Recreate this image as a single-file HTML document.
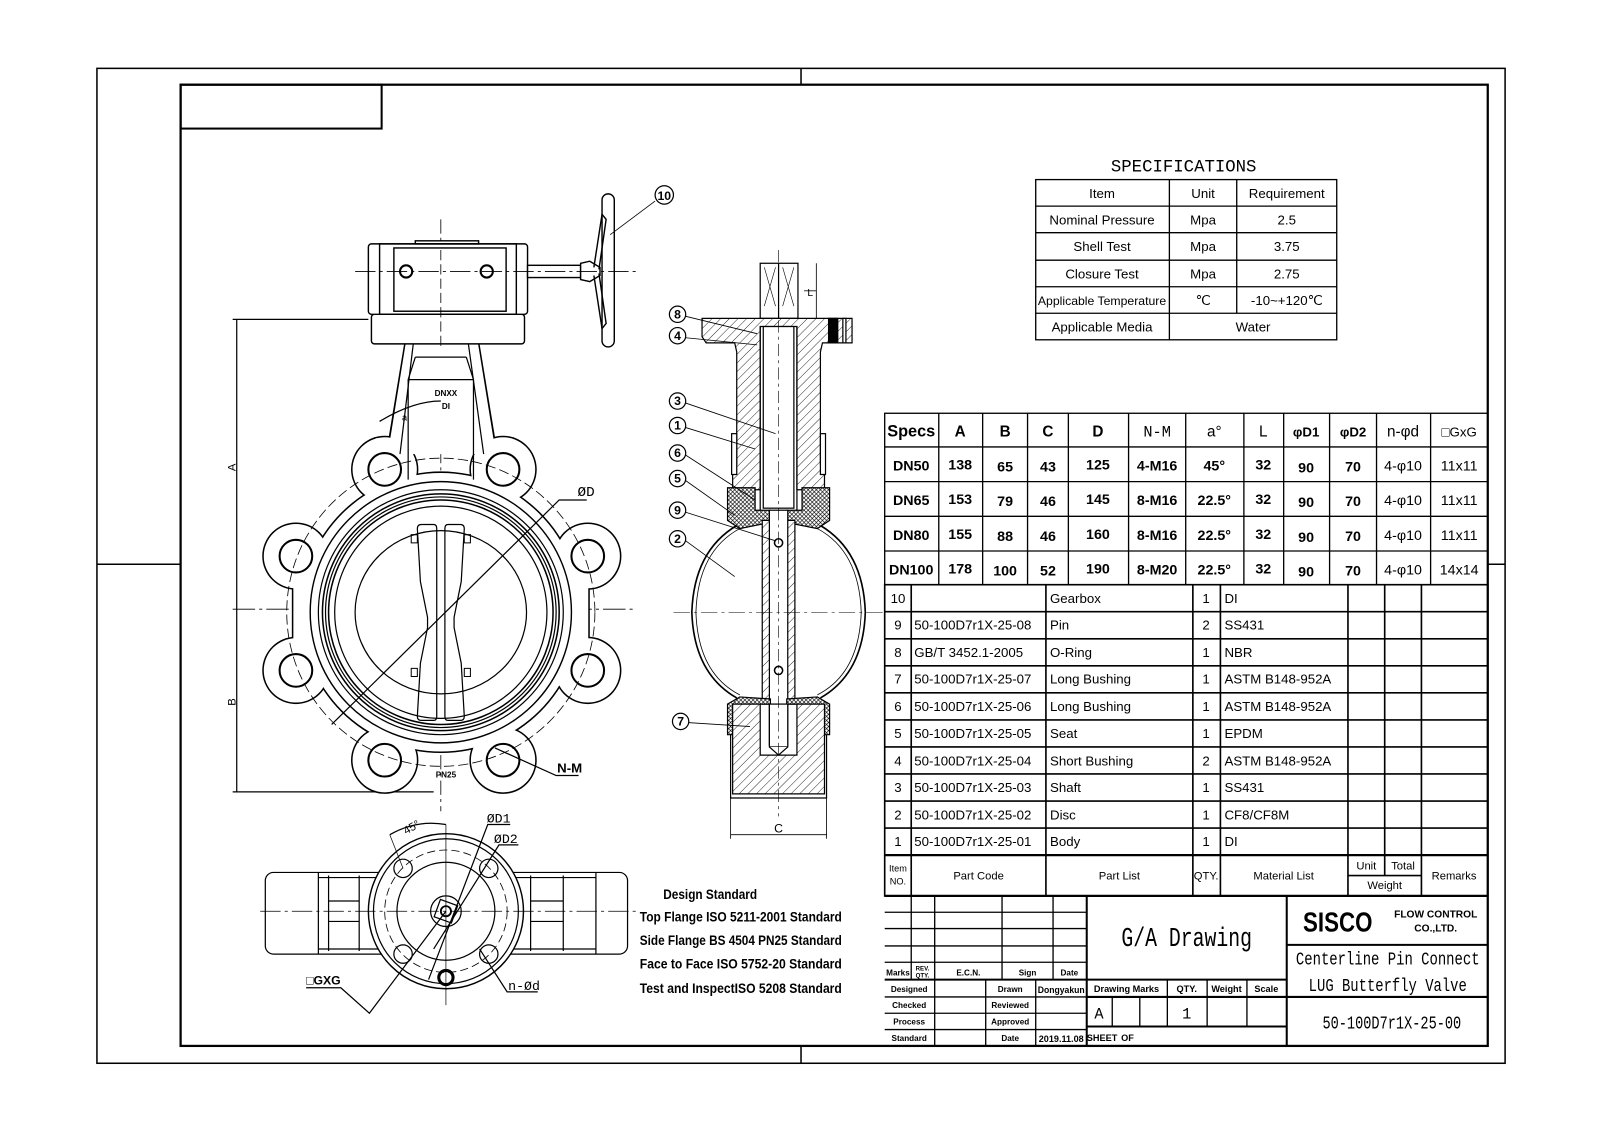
<!DOCTYPE html>
<html><head><meta charset="utf-8"><style>
html,body{margin:0;padding:0;background:#fff;}
svg{display:block;}
text{font-family:"Liberation Sans Narrow","Liberation Sans",sans-serif;fill:#000;}
.m{font-family:"Liberation Mono","Liberation Serif",monospace;}
</style></head><body>
<svg width="1600" height="1130" viewBox="0 0 1568 1107.4" xmlns="http://www.w3.org/2000/svg">
<defs>
<pattern id="h" width="6" height="6" patternUnits="userSpaceOnUse" patternTransform="rotate(45)"><rect width="6" height="6" fill="#fff"/><line x1="0" y1="0" x2="0" y2="6" stroke="#000" stroke-width="0.8"/></pattern>
<pattern id="x" width="4" height="4" patternUnits="userSpaceOnUse"><rect width="4" height="4" fill="#fff"/><path d="M0 0L4 4M4 0L0 4" stroke="#000" stroke-width="0.6"/></pattern>
</defs>
<rect width="1568" height="1108" fill="#fff"/>
<rect x="95" y="67" width="1380" height="975" fill="none" stroke="#000" stroke-width="1.5"/>
<rect x="177" y="83" width="1281" height="942" fill="none" stroke="#000" stroke-width="2.2"/>
<rect x="177" y="83" width="197" height="43" fill="none" stroke="#000" stroke-width="2"/>
<g stroke="#000" stroke-width="1.5">
<line x1="785" y1="67" x2="785" y2="83"/><line x1="785" y1="1025" x2="785" y2="1042"/>
<line x1="95" y1="553" x2="177" y2="553"/><line x1="1458" y1="553" x2="1475" y2="553"/>
</g>

<text x="1160" y="168" font-size="17" text-anchor="middle" class="m">SPECIFICATIONS</text>
<g stroke="#000" stroke-width="1.3" fill="none">
<rect x="1015" y="176" width="295" height="157"/>
<line x1="1015" y1="202" x2="1310" y2="202"/><line x1="1015" y1="228" x2="1310" y2="228"/>
<line x1="1015" y1="255" x2="1310" y2="255"/><line x1="1015" y1="281" x2="1310" y2="281"/>
<line x1="1015" y1="307" x2="1310" y2="307"/>
<line x1="1146" y1="176" x2="1146" y2="333"/><line x1="1212" y1="176" x2="1212" y2="307"/>
</g>
<g font-size="13" text-anchor="middle" class="m">
<text x="1080" y="194">Item</text><text x="1179" y="194">Unit</text><text x="1261" y="194">Requirement</text>
<text x="1080" y="220">Nominal Pressure</text><text x="1179" y="220">Mpa</text><text x="1261" y="220">2.5</text>
<text x="1080" y="246">Shell Test</text><text x="1179" y="246">Mpa</text><text x="1261" y="246">3.75</text>
<text x="1080" y="273">Closure Test</text><text x="1179" y="273">Mpa</text><text x="1261" y="273">2.75</text>
<text x="1080" y="299" font-size="12">Applicable Temperature</text><text x="1179" y="299">℃</text><text x="1261" y="299">-10~+120℃</text>
<text x="1080" y="325">Applicable Media</text><text x="1228" y="325">Water</text>
</g>

<g stroke="#000" stroke-width="1.3" fill="none">
<rect x="867" y="405" width="591" height="168"/>
<line x1="867" y1="438" x2="1458" y2="438"/><line x1="867" y1="472" x2="1458" y2="472"/>
<line x1="867" y1="506" x2="1458" y2="506"/><line x1="867" y1="540" x2="1458" y2="540"/>
<line x1="920" y1="405" x2="920" y2="573"/><line x1="963" y1="405" x2="963" y2="573"/>
<line x1="1007" y1="405" x2="1007" y2="573"/><line x1="1047" y1="405" x2="1047" y2="573"/>
<line x1="1106" y1="405" x2="1106" y2="573"/><line x1="1162" y1="405" x2="1162" y2="573"/>
<line x1="1219" y1="405" x2="1219" y2="573"/><line x1="1258" y1="405" x2="1258" y2="573"/>
<line x1="1303" y1="405" x2="1303" y2="573"/><line x1="1349" y1="405" x2="1349" y2="573"/>
<line x1="1402" y1="405" x2="1402" y2="573"/>
</g>
<g font-size="15" text-anchor="middle" font-weight="bold">
<text x="893" y="428" font-size="16">Specs</text><text x="941" y="428">A</text><text x="985" y="428">B</text><text x="1027" y="428">C</text><text x="1076" y="428">D</text><text x="1134" y="428" font-weight="normal" class="m">N-M</text><text x="1190" y="428" font-weight="normal">a°</text><text x="1238" y="428" font-weight="normal">L</text><text x="1280" y="428" font-size="13">φD1</text><text x="1326" y="428" font-size="13">φD2</text><text x="1375" y="428" font-weight="normal">n-φd</text><text x="1430" y="428" font-size="13" font-weight="normal">□GxG</text>
</g>
<g font-size="14" text-anchor="middle" font-weight="bold">
<text x="893" y="461">DN50</text><text x="941" y="460">138</text><text x="985" y="462">65</text><text x="1027" y="462">43</text><text x="1076" y="460">125</text><text x="1134" y="461">4-M16</text><text x="1190" y="461">45°</text><text x="1238" y="460">32</text><text x="1280" y="463">90</text><text x="1326" y="462">70</text><text x="1375" y="461" font-weight="normal">4-φ10</text><text x="1430" y="461" font-weight="normal">11x11</text>
<text x="893" y="495">DN65</text><text x="941" y="494">153</text><text x="985" y="496">79</text><text x="1027" y="496">46</text><text x="1076" y="494">145</text><text x="1134" y="495">8-M16</text><text x="1190" y="495">22.5°</text><text x="1238" y="494">32</text><text x="1280" y="497">90</text><text x="1326" y="496">70</text><text x="1375" y="495" font-weight="normal">4-φ10</text><text x="1430" y="495" font-weight="normal">11x11</text>
<text x="893" y="529">DN80</text><text x="941" y="528">155</text><text x="985" y="530">88</text><text x="1027" y="530">46</text><text x="1076" y="528">160</text><text x="1134" y="529">8-M16</text><text x="1190" y="529">22.5°</text><text x="1238" y="528">32</text><text x="1280" y="531">90</text><text x="1326" y="530">70</text><text x="1375" y="529" font-weight="normal">4-φ10</text><text x="1430" y="529" font-weight="normal">11x11</text>
<text x="893" y="563">DN100</text><text x="941" y="562">178</text><text x="985" y="564">100</text><text x="1027" y="564">52</text><text x="1076" y="562">190</text><text x="1134" y="563">8-M20</text><text x="1190" y="563">22.5°</text><text x="1238" y="562">32</text><text x="1280" y="565">90</text><text x="1326" y="564">70</text><text x="1375" y="563" font-weight="normal">4-φ10</text><text x="1430" y="563" font-weight="normal">14x14</text>
</g>

<g stroke="#000" stroke-width="1.6" fill="none">
<rect x="867" y="573" width="591" height="305"/>
<line x1="867" y1="599.5" x2="1458" y2="599.5"/><line x1="867" y1="626" x2="1458" y2="626"/>
<line x1="867" y1="652.5" x2="1458" y2="652.5"/><line x1="867" y1="679" x2="1458" y2="679"/>
<line x1="867" y1="705.5" x2="1458" y2="705.5"/><line x1="867" y1="732" x2="1458" y2="732"/>
<line x1="867" y1="758.5" x2="1458" y2="758.5"/><line x1="867" y1="785" x2="1458" y2="785"/>
<line x1="867" y1="811.5" x2="1458" y2="811.5"/><line x1="867" y1="838" x2="1458" y2="838" stroke-width="2.2"/>
<line x1="893" y1="573" x2="893" y2="878"/><line x1="1025" y1="573" x2="1025" y2="878"/>
<line x1="1169" y1="573" x2="1169" y2="878"/><line x1="1196" y1="573" x2="1196" y2="878"/>
<line x1="1321" y1="573" x2="1321" y2="878"/><line x1="1357" y1="573" x2="1357" y2="858"/>
<line x1="1393" y1="573" x2="1393" y2="878"/><line x1="1321" y1="858" x2="1393" y2="858"/>
<line x1="867" y1="878" x2="1458" y2="878" stroke-width="2.2"/>
</g>
<g font-size="13" class="m">
<g text-anchor="middle"><text x="880" y="591">10</text><text x="880" y="617">9</text><text x="880" y="644">8</text><text x="880" y="670">7</text><text x="880" y="697">6</text><text x="880" y="723">5</text><text x="880" y="750">4</text><text x="880" y="776">3</text><text x="880" y="803">2</text><text x="880" y="829">1</text>
<text x="1182" y="591">1</text><text x="1182" y="617">2</text><text x="1182" y="644">1</text><text x="1182" y="670">1</text><text x="1182" y="697">1</text><text x="1182" y="723">1</text><text x="1182" y="750">2</text><text x="1182" y="776">1</text><text x="1182" y="803">1</text><text x="1182" y="829">1</text></g>
<text x="896" y="617">50-100D7r1X-25-08</text><text x="896" y="644">GB/T 3452.1-2005</text><text x="896" y="670">50-100D7r1X-25-07</text><text x="896" y="697">50-100D7r1X-25-06</text><text x="896" y="723">50-100D7r1X-25-05</text><text x="896" y="750">50-100D7r1X-25-04</text><text x="896" y="776">50-100D7r1X-25-03</text><text x="896" y="803">50-100D7r1X-25-02</text><text x="896" y="829">50-100D7r1X-25-01</text>
<text x="1029" y="591">Gearbox</text><text x="1029" y="617">Pin</text><text x="1029" y="644">O-Ring</text><text x="1029" y="670">Long Bushing</text><text x="1029" y="697">Long Bushing</text><text x="1029" y="723">Seat</text><text x="1029" y="750">Short Bushing</text><text x="1029" y="776">Shaft</text><text x="1029" y="803">Disc</text><text x="1029" y="829">Body</text>
<text x="1200" y="591">DI</text><text x="1200" y="617">SS431</text><text x="1200" y="644">NBR</text><text x="1200" y="670">ASTM B148-952A</text><text x="1200" y="697">ASTM B148-952A</text><text x="1200" y="723">EPDM</text><text x="1200" y="750">ASTM B148-952A</text><text x="1200" y="776">SS431</text><text x="1200" y="803">CF8/CF8M</text><text x="1200" y="829">DI</text>
</g>
<g font-size="11" text-anchor="middle" class="m">
<text x="880" y="854" font-size="9">Item</text><text x="880" y="867" font-size="9">NO.</text>
<text x="959" y="862">Part Code</text><text x="1097" y="862">Part List</text><text x="1182" y="862">QTY.</text><text x="1258" y="862">Material List</text>
<text x="1339" y="852">Unit</text><text x="1375" y="852">Total</text><text x="1357" y="871">Weight</text><text x="1425" y="862">Remarks</text>
</g>

<g stroke="#000" stroke-width="1.3" fill="none">
<line x1="867" y1="894" x2="1065" y2="894"/><line x1="867" y1="910" x2="1065" y2="910"/>
<line x1="867" y1="927" x2="1065" y2="927"/><line x1="867" y1="943" x2="1065" y2="943"/>
<line x1="867" y1="960" x2="1261" y2="960" stroke-width="2"/>
<line x1="867" y1="977" x2="1065" y2="977"/><line x1="867" y1="993" x2="1065" y2="993"/><line x1="867" y1="1009" x2="1065" y2="1009"/>
<line x1="893" y1="878" x2="893" y2="960"/><line x1="916" y1="878" x2="916" y2="1025"/>
<line x1="982" y1="878" x2="982" y2="960"/><line x1="1032" y1="878" x2="1032" y2="960"/>
<line x1="966" y1="960" x2="966" y2="1025"/><line x1="1015" y1="960" x2="1015" y2="1025"/>
<line x1="1065" y1="878" x2="1065" y2="1025" stroke-width="2"/>
<line x1="1261" y1="878" x2="1261" y2="1025" stroke-width="2"/>
<line x1="1065" y1="977" x2="1261" y2="977" stroke-width="2"/><line x1="1065" y1="1006" x2="1261" y2="1006" stroke-width="2"/>
<line x1="1144" y1="960" x2="1144" y2="1006"/><line x1="1183" y1="960" x2="1183" y2="1006"/><line x1="1222" y1="960" x2="1222" y2="1006"/>
<line x1="1090" y1="977" x2="1090" y2="1006"/><line x1="1117" y1="977" x2="1117" y2="1006"/>
<line x1="1261" y1="926" x2="1458" y2="926" stroke-width="2"/><line x1="1261" y1="977" x2="1458" y2="977" stroke-width="2"/>
</g>
<g font-size="8" text-anchor="middle" font-weight="bold">
<text x="880" y="956">Marks</text><text x="904" y="951" font-size="6">REV.</text><text x="904" y="958" font-size="6">QTY.</text><text x="949" y="956">E.C.N.</text><text x="1007" y="956">Sign</text><text x="1048" y="956">Date</text>
<text x="891" y="972">Designed</text><text x="990" y="972">Drawn</text><text x="1040" y="973" font-size="9" textLength="46" lengthAdjust="spacingAndGlyphs">Dongyakun</text>
<text x="891" y="988">Checked</text><text x="990" y="988">Reviewed</text>
<text x="891" y="1004">Process</text><text x="990" y="1004">Approved</text>
<text x="891" y="1020">Standard</text><text x="990" y="1020">Date</text><text x="1040" y="1021" font-size="9" textLength="44" lengthAdjust="spacingAndGlyphs">2019.11.08</text>
<text x="1104" y="972" font-size="9">Drawing Marks</text><text x="1163" y="972" font-size="9">QTY.</text><text x="1202" y="972" font-size="9">Weight</text><text x="1241" y="972" font-size="9">Scale</text>
<text x="1080" y="1020" font-size="9">SHEET</text><text x="1105" y="1020" font-size="9">OF</text>
</g>
<text x="1077" y="998" font-size="15" text-anchor="middle" class="m">A</text>
<text x="1163" y="998" font-size="15" text-anchor="middle" class="m">1</text>
<text x="1163" y="927" font-size="26" text-anchor="middle" class="m" textLength="128" lengthAdjust="spacingAndGlyphs">G/A Drawing</text>
<text x="1311" y="913" font-size="27" text-anchor="middle" font-weight="bold" font-family="Liberation Sans" textLength="68" lengthAdjust="spacingAndGlyphs">SISCO</text>
<text x="1407" y="899" font-size="10" text-anchor="middle" font-weight="bold">FLOW CONTROL</text>
<text x="1407" y="913" font-size="10" text-anchor="middle" font-weight="bold">CO.,LTD.</text>
<text x="1360" y="945" font-size="18" text-anchor="middle" class="m" textLength="180" lengthAdjust="spacingAndGlyphs">Centerline Pin Connect</text>
<text x="1360" y="971" font-size="18" text-anchor="middle" class="m" textLength="155" lengthAdjust="spacingAndGlyphs">LUG Butterfly Valve</text>
<text x="1364" y="1008" font-size="18" text-anchor="middle" class="m" textLength="136" lengthAdjust="spacingAndGlyphs">50-100D7r1X-25-00</text>

<!-- FRONT VIEW -->
<g stroke="#000" fill="none" stroke-width="1.2">
<line x1="232" y1="313" x2="232" y2="776"/>
<line x1="228" y1="313" x2="361" y2="313"/>
<line x1="228" y1="776" x2="425" y2="776"/>
<line x1="228" y1="597" x2="620" y2="597" stroke-dasharray="22 4 3 4" stroke-width="0.8"/>
<line x1="432" y1="215" x2="432" y2="795" stroke-dasharray="14 4 3 4" stroke-width="0.8"/>
</g>
<g fill="#000">
<circle cx="432" cy="600" r="138"/>
<circle cx="377" cy="460" r="33"/><circle cx="493" cy="460" r="33"/>
<circle cx="290" cy="545" r="33"/><circle cx="576" cy="545" r="33"/>
<circle cx="290" cy="657" r="33"/><circle cx="576" cy="657" r="33"/>
<circle cx="377" cy="745" r="33"/><circle cx="493" cy="745" r="33"/>
<rect x="286" y="545" width="16" height="112"/><rect x="562" y="545" width="16" height="112"/>
<path d="M396 337 L470 337 L487 440 L379 440 Z"/>
</g>
<g fill="#fff">
<circle cx="432" cy="600" r="136.5"/>
<circle cx="377" cy="460" r="31.5"/><circle cx="493" cy="460" r="31.5"/>
<circle cx="290" cy="545" r="31.5"/><circle cx="576" cy="545" r="31.5"/>
<circle cx="290" cy="657" r="31.5"/><circle cx="576" cy="657" r="31.5"/>
<circle cx="377" cy="745" r="31.5"/><circle cx="493" cy="745" r="31.5"/>
<rect x="287.5" y="545" width="13" height="112"/><rect x="563.5" y="545" width="13" height="112"/>
<path d="M397.5 337 L468.5 337 L486 445 L380 445 Z"/>
</g>
<g stroke="#000" fill="none" stroke-width="1.2">
<path d="M405 337 L392 445 M459 337 L474 445"/>
<path d="M407 350 L400 372 L400 470 M457 350 L464 372 L464 470 M407 350 L457 350 M400 372 L464 372"/>
<circle cx="432" cy="600" r="151" stroke-dasharray="10 4" stroke-width="0.8"/>
<circle cx="432" cy="600" r="128" stroke-width="1.4"/>
<circle cx="432" cy="600" r="120"/>
<circle cx="432" cy="600" r="116" stroke-width="1.5"/>
<circle cx="432" cy="600" r="113"/>
<circle cx="432" cy="600" r="110" stroke-width="1.5"/>
<circle cx="432" cy="600" r="104"/>
<ellipse cx="432" cy="600" rx="84" ry="80"/>
<g stroke-width="2">
<circle cx="377" cy="460" r="16"/><circle cx="493" cy="460" r="16"/>
<circle cx="290" cy="545" r="16"/><circle cx="576" cy="545" r="16"/>
<circle cx="290" cy="657" r="16"/><circle cx="576" cy="657" r="16"/>
<circle cx="377" cy="745" r="16"/><circle cx="493" cy="745" r="16"/>
</g>
<path d="M409 518 Q409 514 413 514 L425 514 Q428 514 428 518 L428 702 Q428 706 425 706 L413 706 Q409 706 409 702 L412 650 L419 615 L419 605 L412 570 Z"/>
<path d="M455 518 Q455 514 451 514 L439 514 Q436 514 436 518 L436 702 Q436 706 439 706 L451 706 Q455 706 455 702 L452 650 L445 615 L445 605 L452 570 Z"/>
<path d="M403 524 h6 v8 h-6z M455 524 h6 v8 h-6z M403 655 h6 v8 h-6z M455 655 h6 v8 h-6z" stroke-width="1"/>
<path d="M325 710 L548 490 L575 490"/>
<path d="M485 733 L545 760 L567 760"/>
<path d="M372 413 Q405 393 432 393"/>
</g>
<text x="566" y="486" font-size="14" class="m">ØD</text>
<text x="546" y="757" font-size="13" font-weight="bold">N-M</text>
<text x="394" y="412" font-size="9">a</text>
<text x="437" y="388" font-size="8" text-anchor="middle" font-weight="bold">DNXX</text>
<text x="437" y="401" font-size="8" text-anchor="middle" font-weight="bold">DI</text>
<text x="437" y="762" font-size="8" text-anchor="middle" font-weight="bold">PN25</text>
<text x="231" y="458" font-size="11" transform="rotate(-90 231 458)" text-anchor="middle">A</text>
<text x="231" y="688" font-size="11" transform="rotate(-90 231 688)" text-anchor="middle">B</text>

<g stroke="#000" fill="#fff" stroke-width="1.4">
<rect x="364" y="308" width="150" height="29" rx="3"/>
<rect x="361" y="239" width="156" height="69" rx="3"/>
<rect x="372" y="239" width="134" height="69" fill="none"/>
<rect x="386" y="243" width="110" height="62" fill="none"/>
<rect x="407" y="236" width="62" height="3" fill="none"/>
<circle cx="398" cy="266" r="6" stroke-width="2"/><circle cx="477" cy="266" r="6" stroke-width="2"/>
<rect x="517" y="260" width="52" height="12"/>
<path d="M569 258 L578 256 L588 262 L588 270 L578 276 L569 274 Z"/>
<rect x="590" y="190" width="12" height="150" rx="6"/>
<path d="M582 262 L590 210 L594 215 L587 264 M582 270 L590 322 L594 317 L587 268" fill="none"/>
</g>
<g stroke="#000" stroke-width="0.8" fill="none">
<line x1="348" y1="266" x2="625" y2="266" stroke-dasharray="20 4 3 4"/>
<line x1="432" y1="245" x2="432" y2="340" stroke-dasharray="10 4"/>
<line x1="598" y1="230" x2="642" y2="197"/>
</g>
<circle cx="651" cy="191" r="9" fill="#fff" stroke="#000" stroke-width="1.2"/>
<text x="651" y="196" font-size="12" text-anchor="middle" font-weight="bold">10</text>

<!-- SIDE VIEW -->
<g stroke="#000" stroke-width="1.2">
<rect x="745" y="258" width="37" height="54" fill="#fff"/>
<line x1="763" y1="258" x2="763" y2="312"/>
<path d="M749 262 L760 300 M760 262 L749 300 M767 262 L778 300 M778 262 L767 300" stroke-width="0.6"/>
<line x1="800" y1="258" x2="800" y2="312" stroke-width="0.8"/>
<line x1="788" y1="285" x2="800" y2="285" stroke-width="0.8"/>
<path d="M688 312 L835 312 L835 336 L806 336 L804 345 L804 455 L808 465 L808 480 L781 480 L781 320 L745 320 L745 480 L718 480 L718 465 L722 455 L722 345 L720 336 L692 336 L688 330 Z" fill="url(#h)"/>
<rect x="812" y="312" width="9" height="24" fill="#000"/>
<rect x="826" y="312" width="3" height="24" fill="#fff"/>
<rect x="748" y="320" width="30" height="178" fill="#fff"/>
<line x1="745" y1="320" x2="745" y2="500"/><line x1="781" y1="320" x2="781" y2="500"/>
<rect x="717" y="425" width="5" height="40" fill="#fff"/><rect x="804" y="425" width="5" height="40" fill="#fff"/>
<path d="M713 478 L740 478 L740 500 L755 500 L755 512 L725 518 L713 510 Z" fill="url(#x)"/>
<path d="M813 478 L786 478 L786 500 L771 500 L771 512 L801 518 L813 510 Z" fill="url(#x)"/>
<path d="M722 515 Q680 540 678 600 Q680 660 722 684" fill="none" stroke-width="1.6"/>
<path d="M804 515 Q846 540 848 600 Q846 660 804 684" fill="none" stroke-width="1.6"/>
<path d="M725 518 Q684 540 682 600 Q684 660 725 681" fill="none" stroke-width="0.8"/>
<path d="M801 518 Q842 540 844 600 Q842 660 801 681" fill="none" stroke-width="0.8"/>
<rect x="747" y="510" width="32" height="180" fill="url(#h)"/>
<rect x="754" y="500" width="18" height="230" fill="#fff"/>
<path d="M754 730 L763 738 L772 730" fill="#fff"/>
<circle cx="763" cy="532" r="4" fill="#fff" stroke-width="1.5"/>
<circle cx="763" cy="657" r="4" fill="#fff" stroke-width="1.5"/>
<path d="M713 720 L740 720 L740 690 L755 690 L755 685 L725 683 L713 690 Z" fill="url(#x)"/>
<path d="M813 720 L786 720 L786 690 L771 690 L771 685 L801 683 L813 690 Z" fill="url(#x)"/>
<path d="M718 690 L745 690 L745 740 L781 740 L781 690 L808 690 L808 778 L718 778 Z" fill="url(#h)"/>
<rect x="754" y="690" width="18" height="42" fill="#fff"/>
<path d="M754 732 L763 740 L772 732" fill="#fff"/>
<path d="M716 720 L716 782 L810 782 L810 720" fill="none"/>
<line x1="716" y1="782" x2="716" y2="822" stroke-width="0.8"/><line x1="810" y1="782" x2="810" y2="822" stroke-width="0.8"/>
<line x1="716" y1="818" x2="810" y2="818" stroke-width="0.8"/>
<line x1="763" y1="245" x2="763" y2="800" stroke-dasharray="12 4 3 4" stroke-width="0.6"/>
<line x1="660" y1="600" x2="865" y2="600" stroke-dasharray="16 4 3 4" stroke-width="0.6"/>
</g>
<text x="763" y="816" font-size="12" text-anchor="middle">C</text>
<text x="794" y="290" font-size="10" text-anchor="middle">L</text>
<g stroke="#000" stroke-width="0.8" fill="none">
<line x1="672" y1="310" x2="742" y2="327"/>
<line x1="672" y1="331" x2="742" y2="338"/>
<line x1="672" y1="395" x2="760" y2="425"/>
<line x1="672" y1="419" x2="740" y2="440"/>
<line x1="672" y1="446" x2="740" y2="490"/>
<line x1="672" y1="471" x2="720" y2="505"/>
<line x1="672" y1="502" x2="760" y2="530"/>
<line x1="672" y1="530" x2="720" y2="565"/>
<line x1="672" y1="708" x2="735" y2="712"/>
</g>
<g stroke="#000" stroke-width="1.2" fill="#fff">
<circle cx="664" cy="308" r="8"/><circle cx="664" cy="329" r="8"/><circle cx="664" cy="393" r="8"/>
<circle cx="664" cy="417" r="8"/><circle cx="664" cy="444" r="8"/><circle cx="664" cy="469" r="8"/>
<circle cx="664" cy="500" r="8"/><circle cx="664" cy="528" r="8"/><circle cx="667" cy="707" r="8"/>
</g>
<g font-size="12" text-anchor="middle" font-weight="bold">
<text x="664" y="312">8</text><text x="664" y="333">4</text><text x="664" y="397">3</text><text x="664" y="421">1</text><text x="664" y="448">6</text><text x="664" y="473">5</text><text x="664" y="504">9</text><text x="664" y="532">2</text><text x="667" y="711">7</text>
</g>

<!-- BOTTOM VIEW -->
<g stroke="#000" stroke-width="1.2" fill="none">
<rect x="260" y="855" width="355" height="80" rx="8"/>
<line x1="312" y1="860" x2="584" y2="860"/><line x1="312" y1="930" x2="584" y2="930"/>
<line x1="322" y1="858" x2="322" y2="932"/><line x1="352" y1="858" x2="352" y2="932"/>
<line x1="520" y1="858" x2="520" y2="932"/><line x1="552" y1="858" x2="552" y2="932"/>
<line x1="312" y1="855" x2="312" y2="935"/><line x1="584" y1="855" x2="584" y2="935"/>
<line x1="322" y1="883" x2="352" y2="883"/><line x1="322" y1="903" x2="352" y2="903"/>
<line x1="520" y1="883" x2="552" y2="883"/><line x1="552" y1="903" x2="520" y2="903"/>
</g>
<circle cx="437" cy="893" r="76" fill="#fff" stroke="#000" stroke-width="1.4"/>
<g stroke="#000" fill="none" stroke-width="1.2">
<circle cx="437" cy="893" r="71"/>
<circle cx="437" cy="893" r="48"/>
<circle cx="437" cy="893" r="60" stroke-dasharray="8 4" stroke-width="0.8"/>
<circle cx="395" cy="851" r="9"/><circle cx="479" cy="851" r="9"/>
<circle cx="395" cy="935" r="9"/><circle cx="479" cy="935" r="9"/>
<circle cx="437" cy="893" r="15"/>
<rect x="428" y="884" width="18" height="18" transform="rotate(20 437 893)"/>
<circle cx="437" cy="893" r="5" stroke-width="1.8"/>
<circle cx="437" cy="958" r="7" stroke-width="3"/>
<line x1="255" y1="893" x2="625" y2="893" stroke-dasharray="20 4 3 4" stroke-width="0.7"/>
<line x1="437" y1="808" x2="437" y2="985" stroke-width="0.7"/>
<path d="M382 818 Q408 803 437 808"/>
<line x1="382" y1="818" x2="395" y2="851" stroke-width="0.7"/>
<path d="M420 960 L478 808 L500 808"/>
<path d="M425 930 L489 828 L508 828"/>
<path d="M300 968 L334 968 L362 993 L437 893"/>
<path d="M470 930 L497 972 L527 972"/>
</g>
<text x="398" y="818" font-size="11" transform="rotate(-30 398 818)">45°</text>
<text x="477" y="806" font-size="13" class="m">ØD1</text>
<text x="484" y="826" font-size="13" class="m">ØD2</text>
<text x="300" y="965" font-size="12" font-weight="bold">□GXG</text>
<text x="498" y="970" font-size="13" class="m">n-Ød</text>

<g font-size="13.5" font-weight="bold" class="m">
<text x="650" y="881" textLength="92" lengthAdjust="spacingAndGlyphs">Design Standard</text>
<text x="627" y="903" textLength="198" lengthAdjust="spacingAndGlyphs">Top Flange ISO 5211-2001 Standard</text>
<text x="627" y="926" textLength="198" lengthAdjust="spacingAndGlyphs">Side Flange BS 4504 PN25 Standard</text>
<text x="627" y="949" textLength="198" lengthAdjust="spacingAndGlyphs">Face to Face ISO 5752-20 Standard</text>
<text x="627" y="973" textLength="198" lengthAdjust="spacingAndGlyphs">Test and InspectISO 5208 Standard</text>
</g>
</svg>
</body></html>
